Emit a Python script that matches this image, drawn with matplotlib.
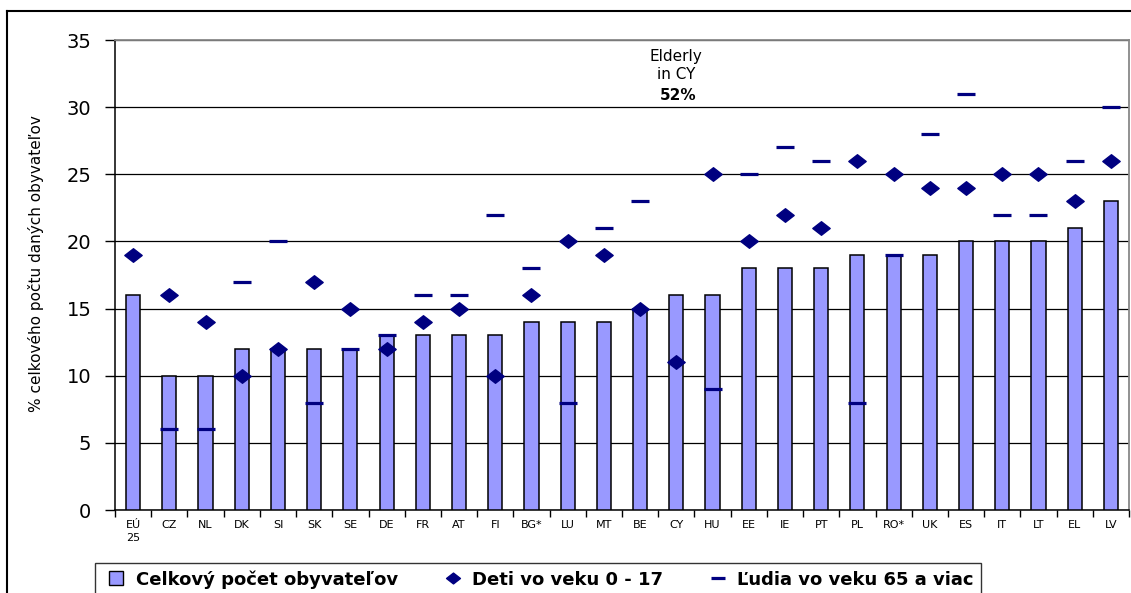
import numpy as np
import matplotlib
matplotlib.use('Agg')
import matplotlib.pyplot as plt
from matplotlib.path import Path
from matplotlib.lines import Line2D

plt.rcParams['font.family'] = ['DejaVu Sans']

## data, % of all residents in each group
countries = ['EÚ\n25', 'CZ', 'NL', 'DK', 'SI', 'SK', 'SE', 'DE', 'FR', 'AT',
             'FI', 'BG*', 'LU', 'MT', 'BE', 'CY', 'HU', 'EE', 'IE', 'PT',
             'PL', 'RO*', 'UK', 'ES', 'IT', 'LT', 'EL', 'LV']
total = [16, 10, 10, 12, 12, 12, 12, 13, 13, 13, 13, 14, 14, 14, 15, 16, 16,
         18, 18, 18, 19, 19, 19, 20, 20, 20, 21, 23]
children = [19, 16, 14, 10, 12, 17, 15, 12, 14, 15, 10, 16, 20, 19, 15, 11,
            25, 20, 22, 21, 26, 25, 24, 24, 25, 25, 23, 26]
## CY elderly value (52) is off the scale and given as a note instead
elderly = [np.nan, 6, 6, 17, 20, 8, 12, 13, 16, 16, 22, 18, 8, 21, 23, np.nan,
           9, 25, 27, 26, 8, 19, 28, 31, 22, 22, 26, 30]
note_lines = ['Elderly', 'in CY', '52%']

W, H = 1131, 593
fig = plt.figure(figsize=(W / 100, H / 100), dpi=100)
ax = fig.add_axes([115 / W, 1 - 510 / H, 1014 / W, 470 / H])

x = np.arange(len(countries))
navy = '#000080'
## flattened diamond marker
diamond = Path([(-1, 0), (0, 0.78), (1, 0), (0, -0.78), (-1, 0)],
               [Path.MOVETO, Path.LINETO, Path.LINETO, Path.LINETO,
                Path.CLOSEPOLY])

ax.bar(x, total, width=0.39, color='#9999FF', edgecolor='black',
       linewidth=1.1, zorder=3)
ax.plot(x, children, linestyle='none', marker=diamond, markersize=12.5,
        color=navy, zorder=4)
ax.plot(x, elderly, linestyle='none', marker='_', markersize=12.5,
        markeredgewidth=2.3, color=navy, zorder=5)

## note for CY
ax.text(15, 33.8, note_lines[0], ha='center', va='center', fontsize=11)
ax.text(15, 32.4, note_lines[1], ha='center', va='center', fontsize=11)
ax.text(15.05, 30.85, note_lines[2], ha='center', va='center', fontsize=11,
        fontweight='bold')

## axes
ax.set_xlim(-0.5, len(countries) - 0.5)
ax.set_ylim(0, 35)
ax.set_yticks(np.arange(0, 36, 5))
ax.yaxis.grid(True, color='black', linewidth=0.9, zorder=0)
ax.set_axisbelow(True)
ax.tick_params(axis='y', labelsize=14, length=7, width=1, pad=10)
ax.set_xticks(x)
ax.set_xticklabels(countries, fontsize=8, linespacing=1.45)
ax.tick_params(axis='x', which='major', length=0, pad=7)
ax.set_xticks(np.arange(-0.5, len(countries), 1), minor=True)
ax.tick_params(axis='x', which='minor', length=5, width=1)
for lbl in ax.get_xticklabels():
    lbl.set_verticalalignment('top')
for s in ['left', 'bottom']:
    ax.spines[s].set_color('black')
    ax.spines[s].set_linewidth(1.1)
for s in ['top', 'right']:
    ax.spines[s].set_color('#888888')
    ax.spines[s].set_linewidth(1.3)
ax.set_ylabel('% celkového počtu daných obyvateľov', fontsize=11)
ax.yaxis.set_label_coords(-0.070, 0.525)

## legend
handles = [
    Line2D([], [], linestyle='none', marker='s', markersize=10,
           markerfacecolor='#9999FF', markeredgecolor='black',
           markeredgewidth=1),
    Line2D([], [], linestyle='none', marker=diamond, markersize=10,
           color=navy),
    Line2D([], [], linestyle='none', marker='_', markersize=10,
           markeredgewidth=2.3, color=navy),
]
labels = ['Celkový počet obyvateľov', 'Deti vo veku 0 - 17',
          'Ľudia vo veku 65 a viac']
fig.legend(handles, labels, loc='upper center', ncol=3,
           bbox_to_anchor=(538 / W, 1 - 563 / H), borderaxespad=0,
           prop={'weight': 'bold', 'size': 13}, frameon=True,
           fancybox=False, edgecolor='black', handlelength=1.6,
           handletextpad=0.3, columnspacing=2.2, borderpad=0.4)

## outer chart frame
fig.add_artist(Line2D([7 / W, 7 / W], [0, 1 - 11 / H], color='black',
                      linewidth=1.5, transform=fig.transFigure))
fig.add_artist(Line2D([7 / W, 1], [1 - 11 / H, 1 - 11 / H], color='black',
                      linewidth=1.5, transform=fig.transFigure))

fig.savefig('out.png', dpi=100)
